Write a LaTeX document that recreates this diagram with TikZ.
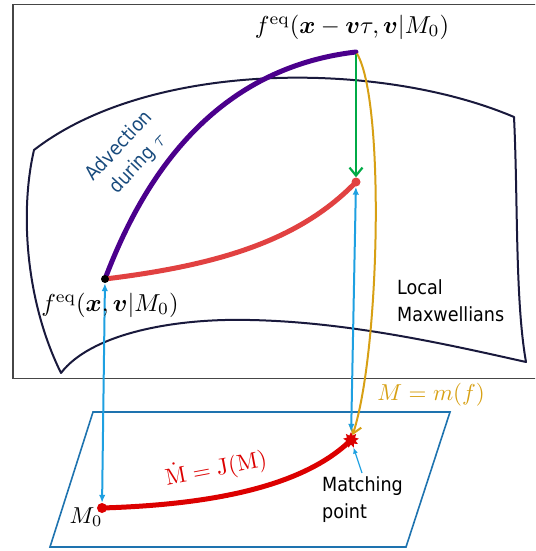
\documentclass[tikz,border=0pt]{standalone}
\usepackage{amsmath}
\usepackage{bm}
\usepackage{fontspec}
\newfontfamily\labelfont{DejaVu Sans Condensed}
\usepackage{xcolor}
\usetikzlibrary{arrows.meta,shapes.geometric}

\definecolor{surfline}{RGB}{25,25,60}
\definecolor{framegray}{RGB}{70,70,70}
\definecolor{advpurple}{RGB}{75,0,140}
\definecolor{relaxred}{RGB}{225,65,65}
\definecolor{macrored}{RGB}{220,0,0}
\definecolor{projgreen}{RGB}{0,170,70}
\definecolor{liftblue}{RGB}{30,160,225}
\definecolor{momgold}{RGB}{215,160,20}
\definecolor{planeblue}{RGB}{30,115,175}
\definecolor{advblue}{RGB}{25,75,125}

\begin{document}
\begin{tikzpicture}[x=1pt, y=-1pt,
  surf/.style={draw=surfline, line width=2pt, line join=round},
  curve/.style={line width=5pt, line cap=round},
  dot/.style={circle, inner sep=0pt, minimum size=#1},
  lift/.style={draw=liftblue, line width=2pt, {Latex[length=8pt,width=6.5pt]}-{Latex[length=8pt,width=6.5pt]}},
  mathlbl/.style={scale=2.45, inner sep=0pt},
  txt/.style={font=\labelfont\fontsize{19.5}{27}\selectfont, align=left, inner sep=0pt}]
\useasboundingbox (0,0) rectangle (535,551);
\clip (0,0) rectangle (535,551);

% frame of the distribution space and the manifold of local Maxwellians
\draw[framegray, line width=1.5pt] (13,4.5) rectangle (545,378.5);
\draw[surf] (34,150) .. controls (150,60) and (380,60) .. (514,117)
  .. controls (518,200) and (515,300) .. (526,362)
  .. controls (450,345) and (350,322) .. (250,320)
  .. controls (170,318) and (90,335) .. (61,373)
  .. controls (25,300) and (20,210) .. (34,150) -- cycle;

% plane of macroscopic moments
\draw[planeblue, line width=1.6pt] (93,412) -- (450,412) -- (406,547) -- (50,547) -- cycle;

\coordinate (feq) at (105,279);
\coordinate (fadv) at (356,52);
\coordinate (frel) at (356,182);
\coordinate (mzero) at (102,508);
\coordinate (match) at (351,440);

\draw[curve, advpurple] (feq) .. controls (135,200) and (200,70) .. (fadv);
\draw[curve, relaxred] (feq) .. controls (220,265) and (300,240) .. (frel);
\draw[curve, macrored] (mzero) .. controls (200,505) and (300,490) .. (match);

\node[dot=8pt, fill=black] (feqdot) at (feq) {};
\node[dot=9pt, fill=relaxred] (freldot) at (frel) {};
\node[dot=3pt, fill=advpurple] (fadvdot) at (fadv) {};
\node[dot=10pt, fill=macrored] (mzerodot) at (mzero) {};
\node[star, star points=9, star point ratio=1.7, minimum size=16pt, inner sep=0pt, fill=macrored] (matchstar) at (match) {};

\draw[projgreen, line width=2.2pt, -{Straight Barb[length=8pt,width=13pt]}] (fadvdot) -- (freldot);
\draw[momgold, line width=2pt, -{Straight Barb[length=8pt,width=12pt]}] (fadvdot) .. controls (385,100) and (380,350) .. (matchstar);
\draw[lift] (feqdot) -- (mzerodot);
\draw[lift] (freldot) -- (matchstar);

\node[mathlbl] (fadvlbl) at (352,27) {$f^{\mathrm{eq}}(\boldsymbol{x}-\boldsymbol{v}\tau,\boldsymbol{v}|M_0)$};
\node[mathlbl] (feqlbl) at (110,305) {$f^{\mathrm{eq}}(\boldsymbol{x},\boldsymbol{v}|M_0)$};
\node[mathlbl, scale=0.94] (mzerolbl) at (86,517) {$M_0$};
\node[mathlbl, scale=0.94, text=momgold, anchor=base west] (momlbl) at (377,400) {$M=m(f)$};
\node[mathlbl, scale=0.94, text=macrored, rotate=10.7] (odelbl) at (216,468) {$\dot{\mathrm{M}}=\mathrm{J}(\mathrm{M})$};
\node[txt, align=center, text=advblue, rotate=47, font=\labelfont\fontsize{19.5}{26}\selectfont] (advlbl) at (129,155) {Advection\\during $\tau$};
\node[txt, anchor=base west] (maxlbl) at (397,321) {Local\\Maxwellians};
\node[txt, anchor=base west] (matchlbl) at (322,518) {Matching\\point};
\draw[liftblue, line width=1.2pt, -{Latex[length=6pt,width=5pt]}] (362,473) -- (matchstar);
\end{tikzpicture}
\end{document}
